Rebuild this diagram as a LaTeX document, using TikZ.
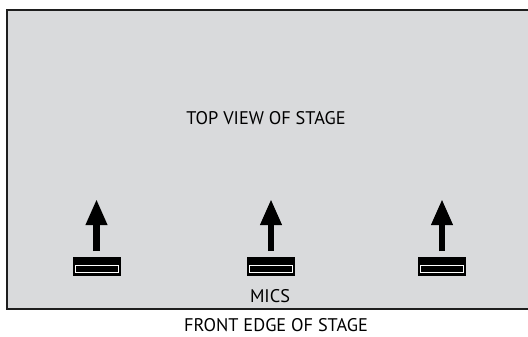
\documentclass[tikz,border=0pt]{standalone}
\usepackage{fontspec}
\setmainfont{PT Sans}
\usetikzlibrary{arrows.meta}
\definecolor{stagegray}{RGB}{217,218,220}
\definecolor{edgegray}{RGB}{30,30,30}
\tikzset{
  x=1pt, y=-1pt,
  label text/.style={font=\fontsize{18.3}{20}\selectfont, text=black, inner sep=0pt},
  micbase/.style={fill=black, draw=none},
  micslot/.style={draw=white, line width=1pt, fill=black},
  micarrow/.style={line width=6.5pt, -{Triangle[length=26pt, width=20pt]}}
}
% one microphone: base bar with slot, arrow pointing upstage
\newcommand{\micsymbol}[2]{%
  \fill[micbase] (#1-24,257) rectangle (#1+24,276);
  \draw[micslot] (#1-21.5,265.5) rectangle (#1+21.5,272);
  \coordinate (#2-tail) at (#1,251);
  \coordinate (#2-tip) at (#1,199);
  \draw[micarrow] (#2-tail) -- (#2-tip);
}
\begin{document}
\begin{tikzpicture}
  \useasboundingbox (0,0) rectangle (528,337);
  % stage area
  \fill[stagegray] (7,10) rectangle (540,309);
  \draw[edgegray, line width=2pt] (540,10) -- (7,10) -- (7,309) -- (540,309);
  \node[label text] (title) at (266,118.5) {TOP VIEW OF STAGE};
  \micsymbol{96.5}{micA}
  \micsymbol{271}{micB}
  \micsymbol{442}{micC}
  \node[label text] (mics) at (270,296) {MICS};
  \node[label text] (front) at (276,325) {FRONT EDGE OF STAGE};
\end{tikzpicture}
\end{document}
